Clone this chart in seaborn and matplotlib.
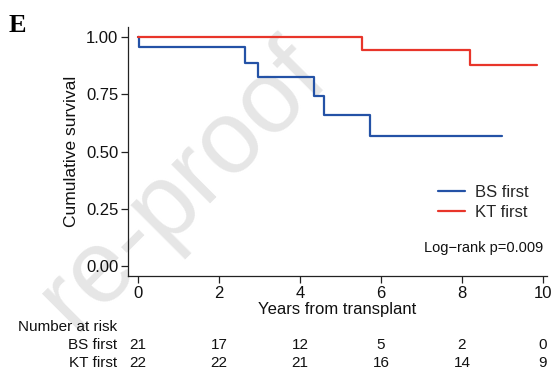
import matplotlib
matplotlib.use("Agg")
import matplotlib.pyplot as plt
import seaborn as sns
import pandas as pd
from matplotlib.transforms import blended_transform_factory

# ---- data ----
bs_times = [0.0, 0.02, 2.64, 2.96, 4.35, 4.60, 5.73, 8.99]
bs_surv = [1.000, 0.955, 0.886, 0.826, 0.742, 0.660, 0.567, 0.567]
kt_times = [0.0, 5.53, 8.20, 9.85]
kt_surv = [1.000, 0.944, 0.876, 0.876]
groups = ["BS first", "KT first"]
risk_times = [0, 2, 4, 6, 8, 10]
bs_risk = [21, 17, 12, 5, 2, 0]
kt_risk = [22, 22, 21, 16, 14, 9]
y_ticks = [0.00, 0.25, 0.50, 0.75, 1.00]
x_ticks = [0, 2, 4, 6, 8, 10]

df = pd.DataFrame({
    "time": bs_times + kt_times,
    "surv": bs_surv + kt_surv,
    "group": [groups[0]] * len(bs_times) + [groups[1]] * len(kt_times),
})

sns.set_style("ticks")
plt.rcParams["font.family"] = ["Liberation Sans", "DejaVu Sans"]

fig = plt.figure(figsize=(5.55, 3.73), dpi=100)
ax = fig.add_axes([0.2306, 0.260, 0.7550, 0.6676])

# watermark (kept inside the figure)
fig.text(0.33, 0.50, "re-proof", fontsize=74, color="#e6e6e6", rotation=45,
         ha="center", va="center", zorder=0, family="Liberation Sans")
ax.set_facecolor("none")
ax.set_zorder(2)

palette = {"BS first": "#2452a6", "KT first": "#e8352a"}
sns.lineplot(data=df, x="time", y="surv", hue="group", palette=palette,
             drawstyle="steps-post", estimator=None, sort=False,
             linewidth=1.6, ax=ax)

ax.set_xlim(-0.25, 10.1)
ax.set_ylim(-0.044, 1.044)
ax.set_xticks(x_ticks)
ax.set_yticks(y_ticks)
ax.set_yticklabels([f"{v:.2f}" for v in y_ticks])
ax.tick_params(axis="both", labelsize=12, length=5, width=0.9, color="#222222",
               labelcolor="#111111", pad=2)
for s in ["top", "right"]:
    ax.spines[s].set_visible(False)
for s in ["left", "bottom"]:
    ax.spines[s].set_linewidth(0.9)
    ax.spines[s].set_color("#222222")

ax.set_xlabel("Years from transplant", fontsize=12, labelpad=1, color="#111111")
ax.set_ylabel("Cumulative survival", fontsize=12.5, labelpad=5, color="#111111")

leg = ax.legend(loc="center left", bbox_to_anchor=(0.74, 0.295), frameon=False,
                fontsize=12, handlelength=1.6, handletextpad=0.6,
                labelspacing=0.3, borderaxespad=0, borderpad=0)

ax.text(10.0, 0.079, "Log\u2212rank p=0.009", fontsize=10.5, ha="right",
        va="center", color="#111111")

# number at risk table
fig.text(18 / 555, 1 - 327 / 373, "Number at risk", fontsize=11,
         ha="left", va="center", color="#111111")
fig.text(117 / 555, 1 - 345 / 373, "BS first", fontsize=11,
         ha="right", va="center", color="#111111")
fig.text(117 / 555, 1 - 363 / 373, "KT first", fontsize=11,
         ha="right", va="center", color="#111111")
bt = blended_transform_factory(ax.transData, fig.transFigure)
for t, a, b in zip(risk_times, bs_risk, kt_risk):
    ax.text(t, 1 - 345 / 373, str(a), transform=bt, fontsize=11,
            ha="center", va="center", color="#111111", clip_on=False)
    ax.text(t, 1 - 363 / 373, str(b), transform=bt, fontsize=11,
            ha="center", va="center", color="#111111", clip_on=False)

fig.text(9 / 555, 1 - 26 / 373, "E", fontsize=19, fontweight="bold",
         family="Liberation Serif", ha="left", va="center", color="#000000")

fig.savefig("out.png", dpi=100)
